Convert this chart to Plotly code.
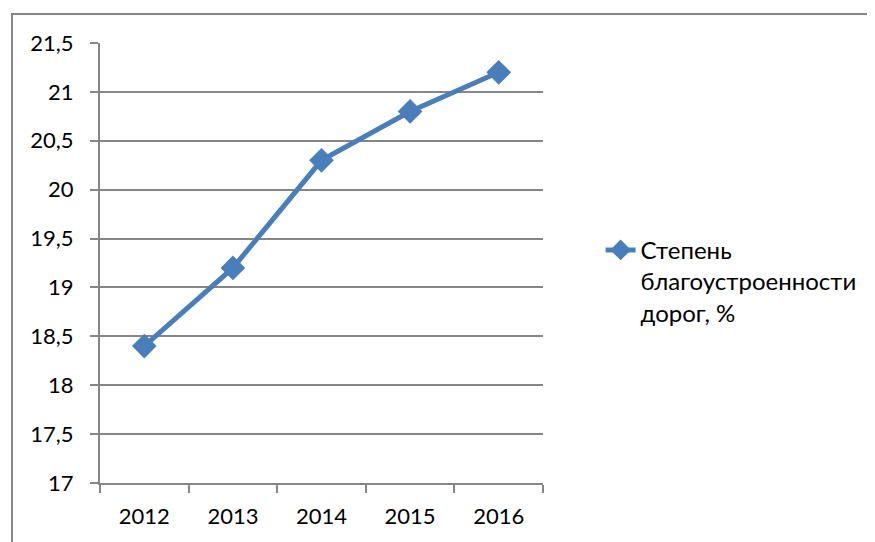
import plotly.graph_objects as go

years = ["2012", "2013", "2014", "2015", "2016"]
values = [18.4, 19.2, 20.3, 20.8, 21.2]
series_name = "Степень<br>благоустроенности<br>дорог, %"
y_ticks = [17, 17.5, 18, 18.5, 19, 19.5, 20, 20.5, 21, 21.5]

W, H = 875, 542
# page offsets minus the 8px body margin of the html page
L, R, T, B = 92, 535, 35, 475

fig = go.Figure()
fig.add_trace(go.Scatter(
    x=years, y=values, mode="lines+markers", name=series_name,
    line=dict(color="#4A7EBB", width=5),
    marker=dict(symbol="diamond", size=19, color="#4A7EBB"),
))

grid = "#868686"
font = dict(family="Lato, Carlito, sans-serif", size=22, color="#000000")
legend_font = dict(family="Lato, Carlito, sans-serif", size=24, color="#000000")
fig.update_layout(
    width=W, height=H,
    margin=dict(l=L, r=W - R, t=T, b=H - B, pad=0),
    paper_bgcolor="white", plot_bgcolor="white",
    separators=", ",
    font=font,
    showlegend=True,
    legend=dict(x=1.13, y=0.58, xanchor="left", yanchor="top",
                valign="top", font=legend_font, bgcolor="rgba(0,0,0,0)",
                itemwidth=30, tracegroupgap=0),
    xaxis=dict(type="category", range=[-0.5, 4.5], showgrid=False,
               showline=True, linecolor=grid, linewidth=2,
               ticks="outside", tickson="boundaries", ticklen=8,
               tickcolor=grid, tickwidth=2, ticklabelstandoff=13),
    yaxis=dict(range=[17, 21.5], tickvals=y_ticks, showgrid=True,
               gridcolor=grid, gridwidth=2, zeroline=False,
               showline=True, linecolor=grid, linewidth=2,
               ticks="outside", ticklen=8, tickcolor=grid, tickwidth=2,
               ticklabelstandoff=12),
)

# outer chart border (extends beyond the visible window at right/bottom)
fig.add_shape(type="rect", xref="paper", yref="paper",
              x0=(4 - L) / (R - L), x1=2.0,
              y0=-1.0, y1=(B - 6) / (B - T),
              line=dict(color="#868686", width=2), fillcolor="rgba(0,0,0,0)",
              layer="below")

fig.write_html("out.html")
